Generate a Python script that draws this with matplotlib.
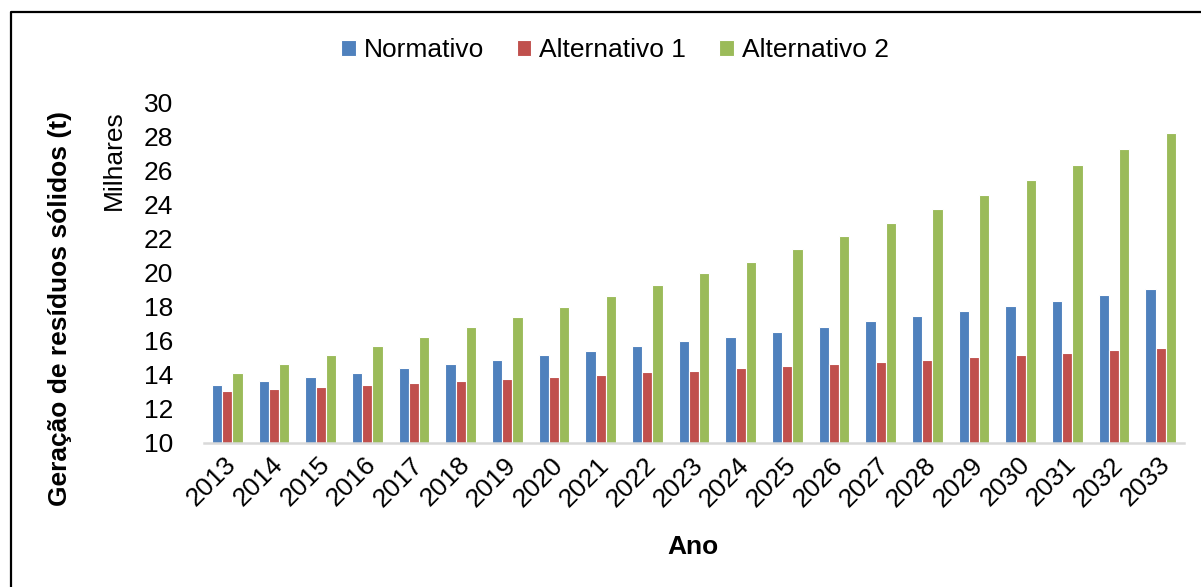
import numpy as np
import matplotlib
matplotlib.use("Agg")
import matplotlib.pyplot as plt
from matplotlib.lines import Line2D
from matplotlib.transforms import ScaledTranslation

plt.rcParams['font.family'] = ['Liberation Sans', 'DejaVu Sans']

# solid waste generation per scenario, thousands of tonnes
anos = [str(a) for a in range(2013, 2034)]
normativo = [13.41, 13.65, 13.88, 14.12, 14.39, 14.63, 14.90, 15.16, 15.41, 15.71, 15.98,
             16.25, 16.55, 16.84, 17.16, 17.45, 17.75, 18.06, 18.37, 18.69, 19.04]
alternativo1 = [13.06, 13.18, 13.29, 13.41, 13.53, 13.65, 13.76, 13.91, 14.02, 14.16, 14.25,
                14.39, 14.51, 14.65, 14.78, 14.90, 15.04, 15.16, 15.31, 15.45, 15.57]
alternativo2 = [14.12, 14.63, 15.16, 15.69, 16.22, 16.80, 17.39, 18.00, 18.65, 19.29, 19.98,
                20.67, 21.41, 22.18, 22.96, 23.76, 24.59, 25.47, 26.35, 27.29, 28.25]
series = ['Normativo', 'Alternativo 1', 'Alternativo 2']
cores = ['#4F81BD', '#C0504D', '#9BBB59']

W, H = 1201, 587
FS = 19
fig = plt.figure(figsize=(W / 100, H / 100), dpi=100)
ax = fig.add_axes([204 / W, 1 - 443 / H, 980 / W, 340 / H])

x = np.arange(len(anos))
largura = 0.22
for i, (nome, vals, cor) in enumerate(zip(series, [normativo, alternativo1, alternativo2], cores)):
    ax.bar(x + (i - 1) * largura, np.array(vals) - 10, bottom=10, width=largura,
           color=cor, edgecolor='white', linewidth=0.8, label=nome, zorder=2)

ax.set_xlim(-0.5, len(anos) - 0.5)
ax.set_ylim(10, 30)
ax.set_yticks(range(10, 31, 2))
ax.set_xticks(x)
ax.set_xticklabels(anos, rotation=45, ha='right', va='center', rotation_mode='anchor')
ax.tick_params(axis='y', length=0, pad=22, labelsize=FS)
ax.tick_params(axis='x', length=0, pad=13, labelsize=FS)
# nudge year labels a little to the right
desloc = ScaledTranslation(5 / 100, 0, fig.dpi_scale_trans)
for lbl in ax.get_xticklabels():
    lbl.set_transform(lbl.get_transform() + desloc)

for s in ['top', 'right', 'left']:
    ax.spines[s].set_visible(False)
ax.spines['bottom'].set_color('#d9d9d9')
ax.spines['bottom'].set_linewidth(1.8)
ax.spines['bottom'].set_zorder(3)

fig.text(60 / W, 1 - 309 / H, 'Geração de resíduos sólidos (t)', rotation=90,
         ha='center', va='center', fontsize=FS, fontweight='bold')
fig.text(114 / W, 1 - 160 / H, 'Milhares', rotation=90,
         ha='center', va='center', fontsize=FS)
fig.text(693 / W, 1 - 547 / H, 'Ano', ha='center', va='center',
         fontsize=FS, fontweight='bold')

fig.legend(loc='center', bbox_to_anchor=(615 / W, 1 - 50 / H), ncol=3, frameon=False,
           fontsize=FS, handlelength=0.55, handleheight=0.55, handletextpad=0.3,
           columnspacing=1.25, borderaxespad=0)

# chart area border (left and top edges)
fig.add_artist(Line2D([10.5 / W, 10.5 / W, 1.01], [-0.01, 1 - 11.5 / H, 1 - 11.5 / H],
                      transform=fig.transFigure, color='black', linewidth=1.6))

fig.savefig('out.png', dpi=100)
